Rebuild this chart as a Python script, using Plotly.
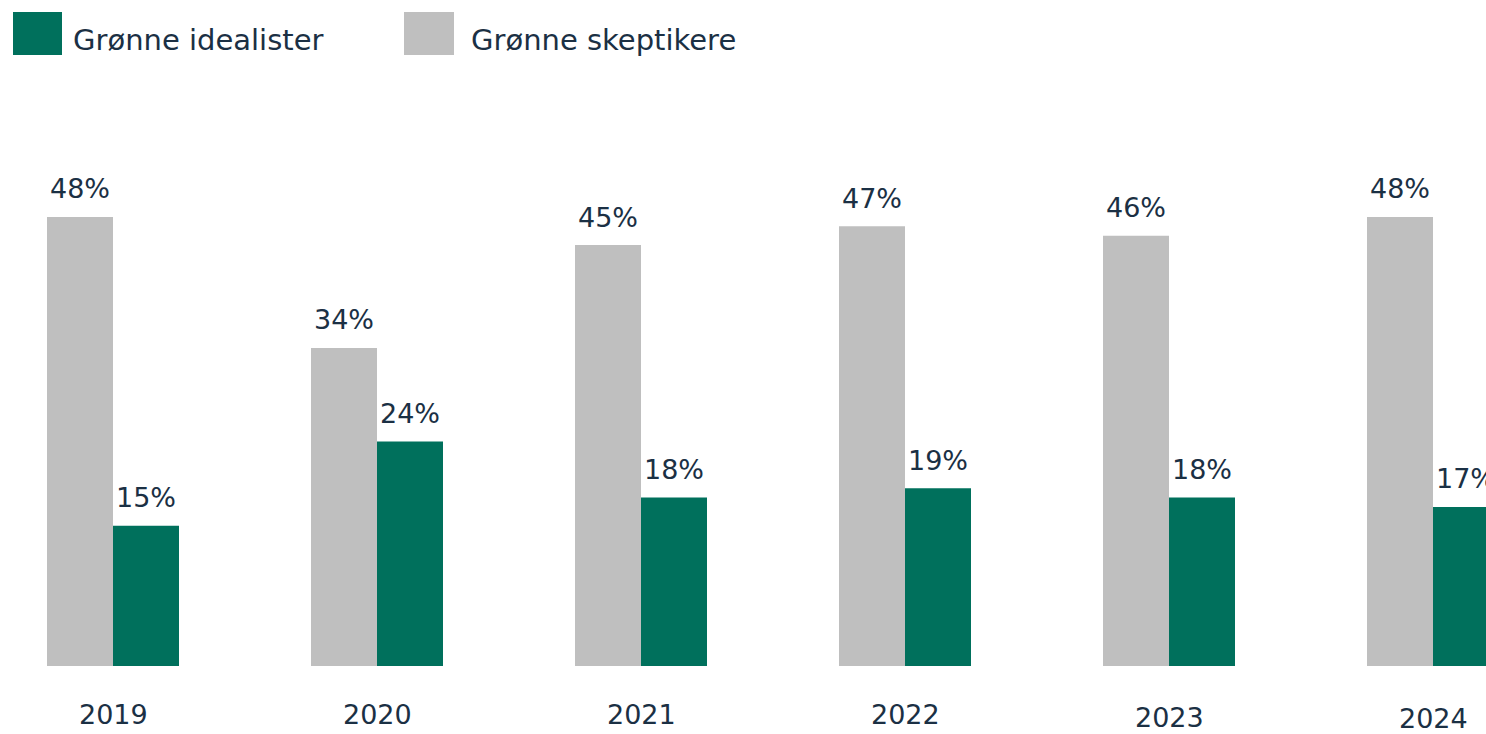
import plotly.graph_objects as go

years = ["2019", "2020", "2021", "2022", "2023", "2024"]
skeptikere = [48, 34, 45, 47, 46, 48]
idealister = [15, 24, 18, 19, 18, 17]
series_names = ["Grønne idealister", "Grønne skeptikere"]

GREEN = "#00705C"
GREY = "#BFBFBF"
TEXT = "#1B3044"
FONT = "DejaVu Sans"

W, H = 1486, 734
M_T, M_B = 100, 68
PLOT_H = H - M_T - M_B
Y_MAX = 60.5
CAT_PX = 264  # pixel width per year group
FIRST_CENTER_PX = 113

# small vertical nudges for the year labels (pixels, downward)
year_label_nudge = [0, 0, 0, 0, 3, 4]


def px_to_paper_y(py):
    return (H - M_B - py) / PLOT_H


fig = go.Figure()
fig.add_trace(go.Bar(x=years, y=skeptikere, name=series_names[1],
                     marker=dict(color=GREY, line=dict(width=0)), showlegend=False))
fig.add_trace(go.Bar(x=years, y=idealister, name=series_names[0],
                     marker=dict(color=GREEN, line=dict(width=0)), showlegend=False))

annotations = []
bar_half = CAT_PX * 0.25 / 2
for i, (s, g) in enumerate(zip(skeptikere, idealister)):
    for val, dx in ((s, -bar_half), (g, bar_half)):
        annotations.append(dict(x=i, y=val, xref="x", yref="y", text=f"{val}%",
                                showarrow=False, xshift=dx, yshift=28,
                                yanchor="middle", xanchor="center",
                                font=dict(family=FONT, size=27, color=TEXT)))

for i, yr in enumerate(years):
    annotations.append(dict(x=i, y=px_to_paper_y(714 + year_label_nudge[i]),
                            xref="x", yref="paper", text=yr, showarrow=False,
                            yanchor="middle", xanchor="center",
                            font=dict(family=FONT, size=27, color=TEXT)))

# legend drawn by hand: square swatches followed by labels
legend_items = [(series_names[0], GREEN, 13, 62, 71), (series_names[1], GREY, 404, 454, 469)]
shapes = []
for name, col, x0, x1, tx in legend_items:
    shapes.append(dict(type="rect", xref="paper", yref="paper",
                       x0=x0 / W, x1=x1 / W, y0=px_to_paper_y(55), y1=px_to_paper_y(12),
                       fillcolor=col, line=dict(width=0)))
    annotations.append(dict(x=tx / W, y=px_to_paper_y(40), xref="paper", yref="paper",
                            text=name, showarrow=False, xanchor="left", yanchor="middle",
                            font=dict(family=FONT, size=29, color=TEXT)))

x0 = -FIRST_CENTER_PX / CAT_PX
fig.update_layout(
    width=W, height=H,
    margin=dict(l=0, r=0, t=M_T, b=M_B),
    paper_bgcolor="white", plot_bgcolor="white",
    barmode="group", bargap=0.5, bargroupgap=0,
    xaxis=dict(type="category", range=[x0, x0 + W / CAT_PX], showticklabels=False,
               showgrid=False, zeroline=False, showline=False, ticks=""),
    yaxis=dict(range=[0, Y_MAX], visible=False, showgrid=False, zeroline=False),
    annotations=annotations, shapes=shapes,
    font=dict(family=FONT, color=TEXT),
)

fig.write_html("out.html")
